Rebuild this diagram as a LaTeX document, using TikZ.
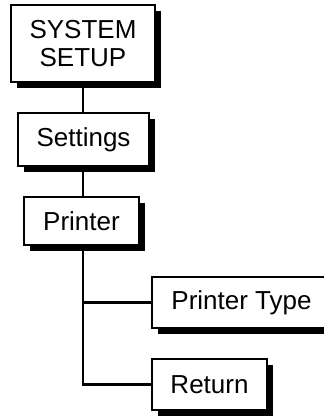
\documentclass[tikz,border=0pt]{standalone}
\usepackage{fontspec}
\setmainfont{Liberation Sans}
\usepackage{tikz}
\usetikzlibrary{shadows}
\tikzset{
  menubox/.style={draw=black,fill=white,line width=1.8pt,inner sep=0pt,align=center,
    font=\fontsize{26}{28}\selectfont,
    general shadow={fill=black,shadow xshift=6pt,shadow yshift=-6pt}},
  link/.style={black,line width=2.2pt}
}

\begin{document}
\begin{tikzpicture}[x=1pt,y={(0pt,-1pt)}]
  \useasboundingbox (0,0) rectangle (324,416);
  \clip (0,0) rectangle (324,416);
  \node[menubox,minimum width=144pt,minimum height=77pt] (sys) at (83,43.5) {SYSTEM\\SETUP};
  \node[menubox,minimum width=131pt,minimum height=53pt] (set) at (83.5,139.5) {Settings};
  \node[menubox,minimum width=115pt,minimum height=48pt] (prn) at (81.5,221) {Printer};
  \node[menubox,minimum width=179pt,minimum height=51pt] (ptype) at (241.5,302.5) {Printer Type};
  \node[menubox,minimum width=115pt,minimum height=51pt] (ret) at (209.5,384.5) {Return};
  \draw[link] (sys.south) -- (sys.south |- set.north);
  \draw[link] (sys.south |- set.south) -- (sys.south |- prn.north);
  \draw[link] (sys.south |- prn.south) |- (ret.west);
  \draw[link] (sys.south |- prn.south) |- (ptype.west);
\end{tikzpicture}
\end{document}
